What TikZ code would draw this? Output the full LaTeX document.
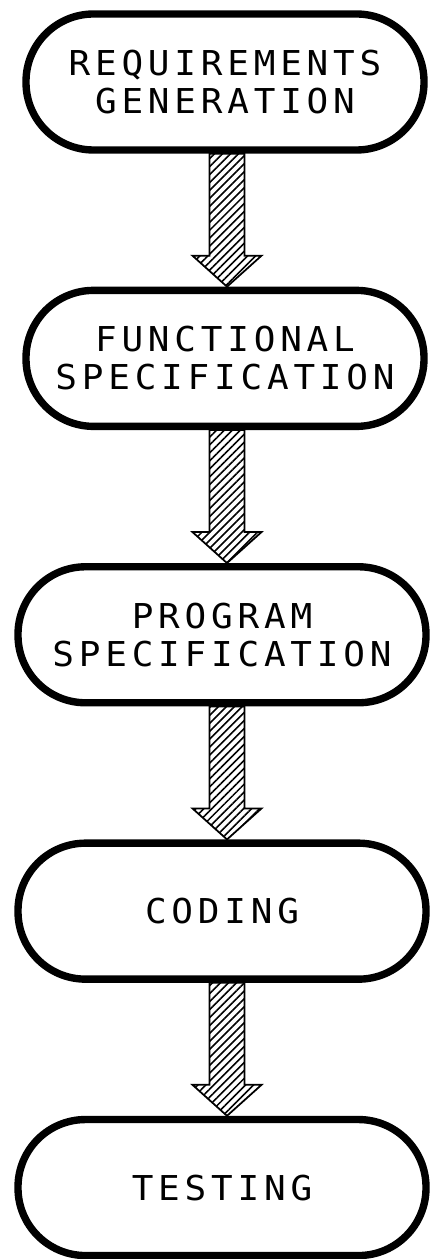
\documentclass[tikz,border=0pt]{standalone}
\usepackage{fontspec}
\newfontfamily\plotfont{DejaVu Sans Mono}[FakeStretch=1.05,LetterSpace=14]
\usetikzlibrary{positioning,calc,patterns.meta}

\begin{document}
\begin{tikzpicture}[node distance=2.66cm,
  stage/.style={draw,line width=4.2pt,rounded corners=1.35cm,fill=white,
                minimum width=7.96cm,minimum height=2.72cm,align=center,
                font=\plotfont\fontsize{19.5}{21.5}\selectfont},
  wide/.style={minimum width=8.16cm},
  hatch/.style={draw,line width=1pt,line join=miter,
                pattern={Lines[angle=45,distance=3.2pt,line width=0.9pt]}}]
  \useasboundingbox (0,0) rectangle (8.6,-25.18);
  \node[stage] (req) at (4.5,-1.64) {REQUIREMENTS\\GENERATION};
  \node[stage,below=of req]  (func) {FUNCTIONAL\\SPECIFICATION};
  \node[stage,wide,below=of func,xshift=-0.06cm] (prog) {PROGRAM\\SPECIFICATION};
  \node[stage,wide,below=of prog] (code) {CODING};
  \node[stage,wide,below=of code] (test) {TESTING};
  % hatched block arrows from stage to stage, all on the axis of the first box
  \foreach \src/\dst in {req/func,func/prog,prog/code,code/test} {
    \coordinate (tail) at ($(\src.south -| req.south)+(0.04,0)$);
    \coordinate (tip)  at ($(\dst.north -| req.south)+(0.04,0)$);
    \draw[hatch] ($(tail)+(-0.35,0)$) -- ($(tip)+(-0.35,0.62)$)
      -- ($(tip)+(-0.69,0.62)$) -- (tip) -- ($(tip)+(0.69,0.62)$)
      -- ($(tip)+(0.35,0.62)$) -- ($(tail)+(0.35,0)$) -- cycle;
  }
\end{tikzpicture}
\end{document}
